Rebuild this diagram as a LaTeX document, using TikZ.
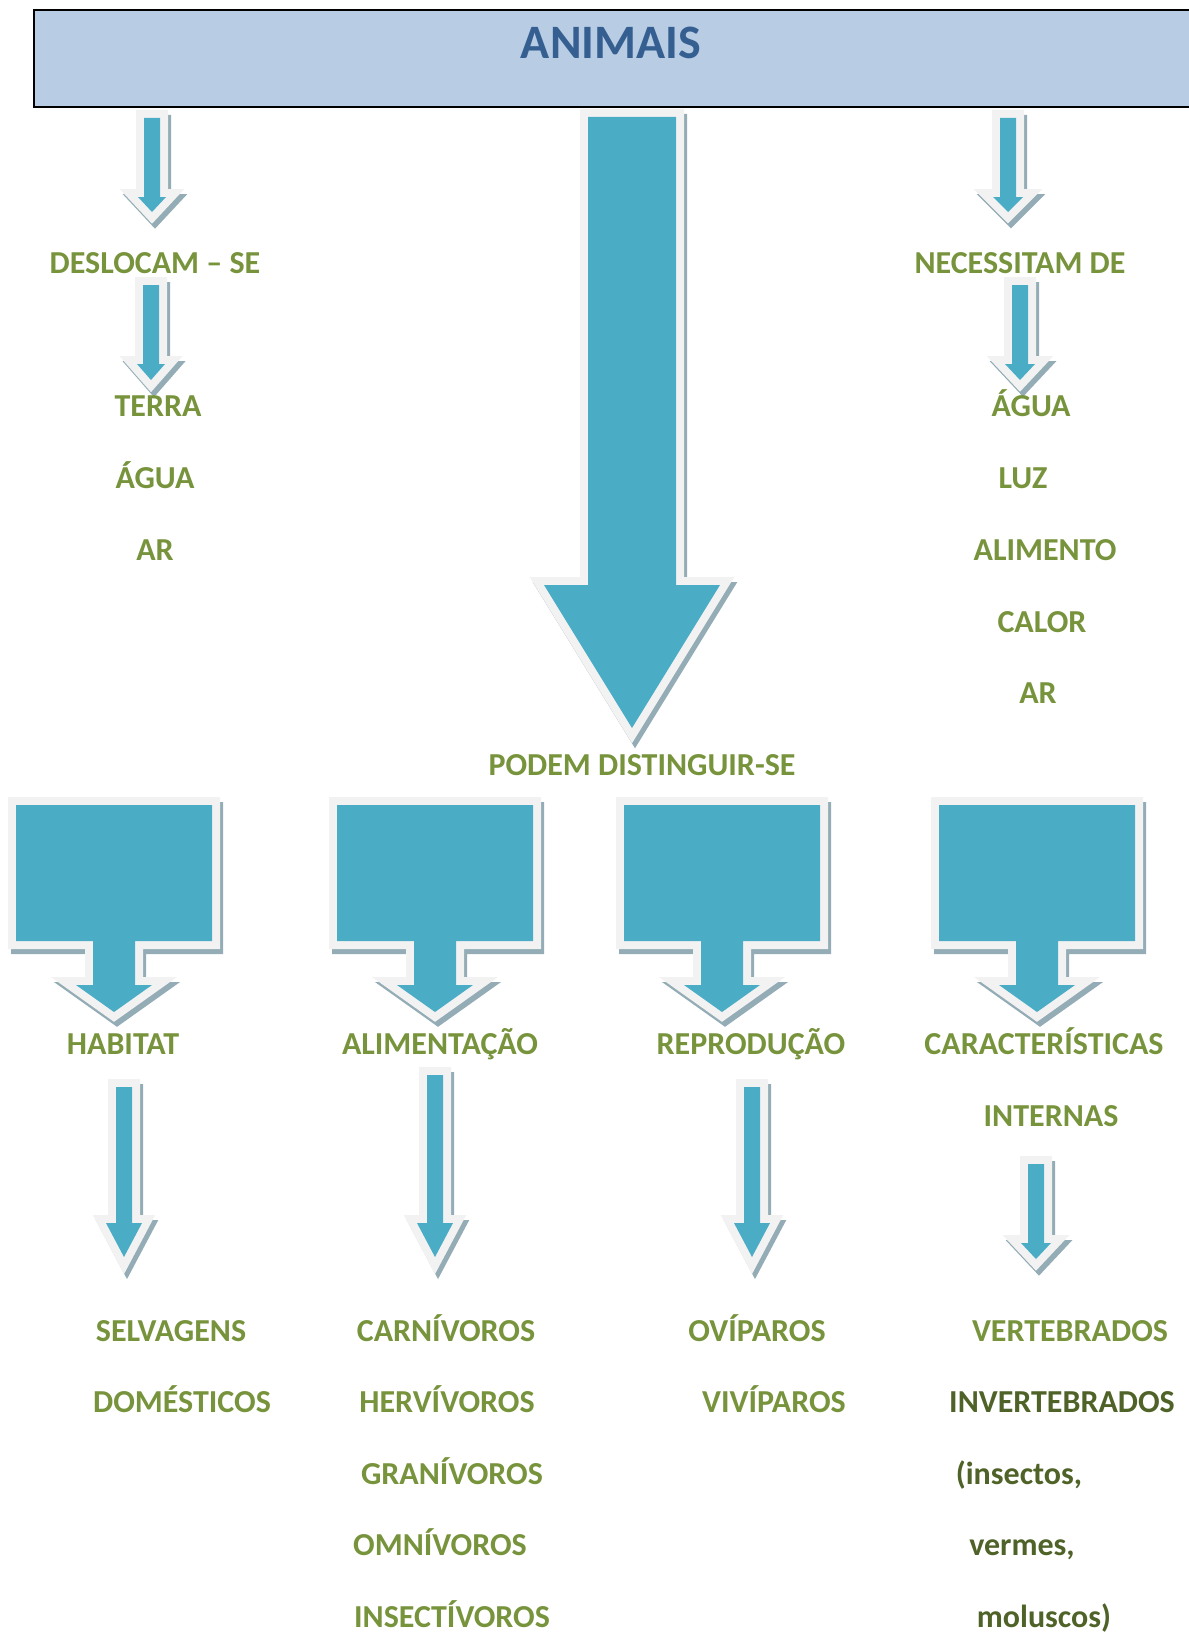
\documentclass[tikz,border=0pt]{standalone}
\usepackage{fontspec}
\setmainfont{Carlito}
\usepackage{tikz}

\definecolor{bannerfill}{HTML}{B8CCE4}
\definecolor{titleblue}{HTML}{365F91}
\definecolor{arrowblue}{HTML}{4BACC6}
\definecolor{arrowrim}{HTML}{F2F2F2}
\definecolor{arrowshade}{HTML}{93ACB5}
\definecolor{leafgreen}{HTML}{77933C}
\definecolor{darkgreen}{HTML}{4F6228}

\begin{document}
\begin{tikzpicture}[x=0.5pt, y=-0.5pt,
    arrowshadow/.style={fill=arrowshade, draw=arrowshade, line width=8pt, shift={(3,5)}},
    arrowrim/.style={draw=arrowrim, line width=8pt},
    arrowbody/.style={fill=arrowblue},
    lbl/.style={font=\fontsize{16}{19}\selectfont\bfseries, text=leafgreen, anchor=base, inner sep=0pt},
    dark/.style={lbl, text=darkgreen}]
\useasboundingbox (0,0) rectangle (1188,1632);

% banner
\draw[fill=bannerfill, line width=1pt] (34,10) rectangle (1210,107);
\node (animais) [anchor=base, inner sep=0pt, text=titleblue,
    font=\fontsize{24}{28}\selectfont\bfseries] at (611,59) {ANIMAIS};

% block arrows: centre/top/head base/tip/shaft half/head half
\foreach \cx/\tp/\hb/\tip/\sw/\hw in {152/118/197/212/8/14, 1008/118/197/212/8/15,
    151/285/364/380/8/14, 1020/285/364/380/8/15, 632/117/585/728/44/88,
    124/1087/1223/1257/8/18, 435/1075/1223/1257/8/18, 752/1087/1223/1257/8/18,
    1036/1164/1243/1259/8/15}
  \foreach \layer in {arrowshadow,arrowrim,arrowbody}
    \path[\layer] (\cx-\sw,\tp) -- (\cx+\sw,\tp) -- (\cx+\sw,\hb) -- (\cx+\hw,\hb)
      -- (\cx,\tip) -- (\cx-\hw,\hb) -- (\cx-\sw,\hb) -- cycle;

% callout boxes
\foreach \cx in {114,435,722,1037}
  \foreach \layer in {arrowshadow,arrowrim,arrowbody}
    \path[\layer] (\cx-98,805) -- (\cx+98,805) -- (\cx+98,941) -- (\cx+21,941)
      -- (\cx+21,985) -- (\cx+38,985) -- (\cx,1012) -- (\cx-38,985) -- (\cx-21,985)
      -- (\cx-21,941) -- (\cx-98,941) -- cycle;

% left branch
\node (desloca) [lbl] at (155,273) {DESLOCAM – SE};
\node (terra) [lbl] at (158,416) {TERRA};
\node (aguaL) [lbl] at (155,488) {ÁGUA};
\node (arL) [lbl] at (155,560) {AR};

% right branch
\node (necessita) [lbl] at (1020,273) {NECESSITAM DE};
\node (aguaR) [lbl] at (1031,416) {ÁGUA};
\node (luz) [lbl] at (1023,488) {LUZ};
\node (alimento) [lbl] at (1045,560) {ALIMENTO};
\node (calor) [lbl] at (1042,632) {CALOR};
\node (arR) [lbl] at (1038,703) {AR};

\node (podem) [lbl] at (642,775) {PODEM DISTINGUIR-SE};

% criteria
\node (habitat) [lbl] at (123,1054) {HABITAT};
\node (alimentacao) [lbl] at (440,1054) {ALIMENTAÇÃO};
\node (reproducao) [lbl] at (751,1054) {REPRODUÇÃO};
\node (caract) [lbl] at (1044,1054) {CARACTERÍSTICAS};
\node (internas) [lbl] at (1051,1126) {INTERNAS};

% groups
\node (selvagens) [lbl] at (171,1341) {SELVAGENS};
\node (domesticos) [lbl] at (182,1412) {DOMÉSTICOS};

\node (carnivoros) [lbl] at (446,1341) {CARNÍVOROS};
\node (hervivoros) [lbl] at (447,1412) {HERVÍVOROS};
\node (granivoros) [lbl] at (452,1484) {GRANÍVOROS};
\node (omnivoros) [lbl] at (440,1555) {OMNÍVOROS};
\node (insectivoros) [lbl] at (452,1627) {INSECTÍVOROS};

\node (oviparos) [lbl] at (757,1341) {OVÍPAROS};
\node (viviparos) [lbl] at (774,1412) {VIVÍPAROS};

\node (vertebrados) [lbl] at (1070,1341) {VERTEBRADOS};
\node (invertebrados) [dark] at (1062,1412) {INVERTEBRADOS};
\node (insectos) [dark] at (1019,1484) {(insectos,};
\node (vermes) [dark] at (1022,1555) {vermes,};
\node (moluscos) [dark] at (1044,1627) {moluscos)};

\end{tikzpicture}
\end{document}
